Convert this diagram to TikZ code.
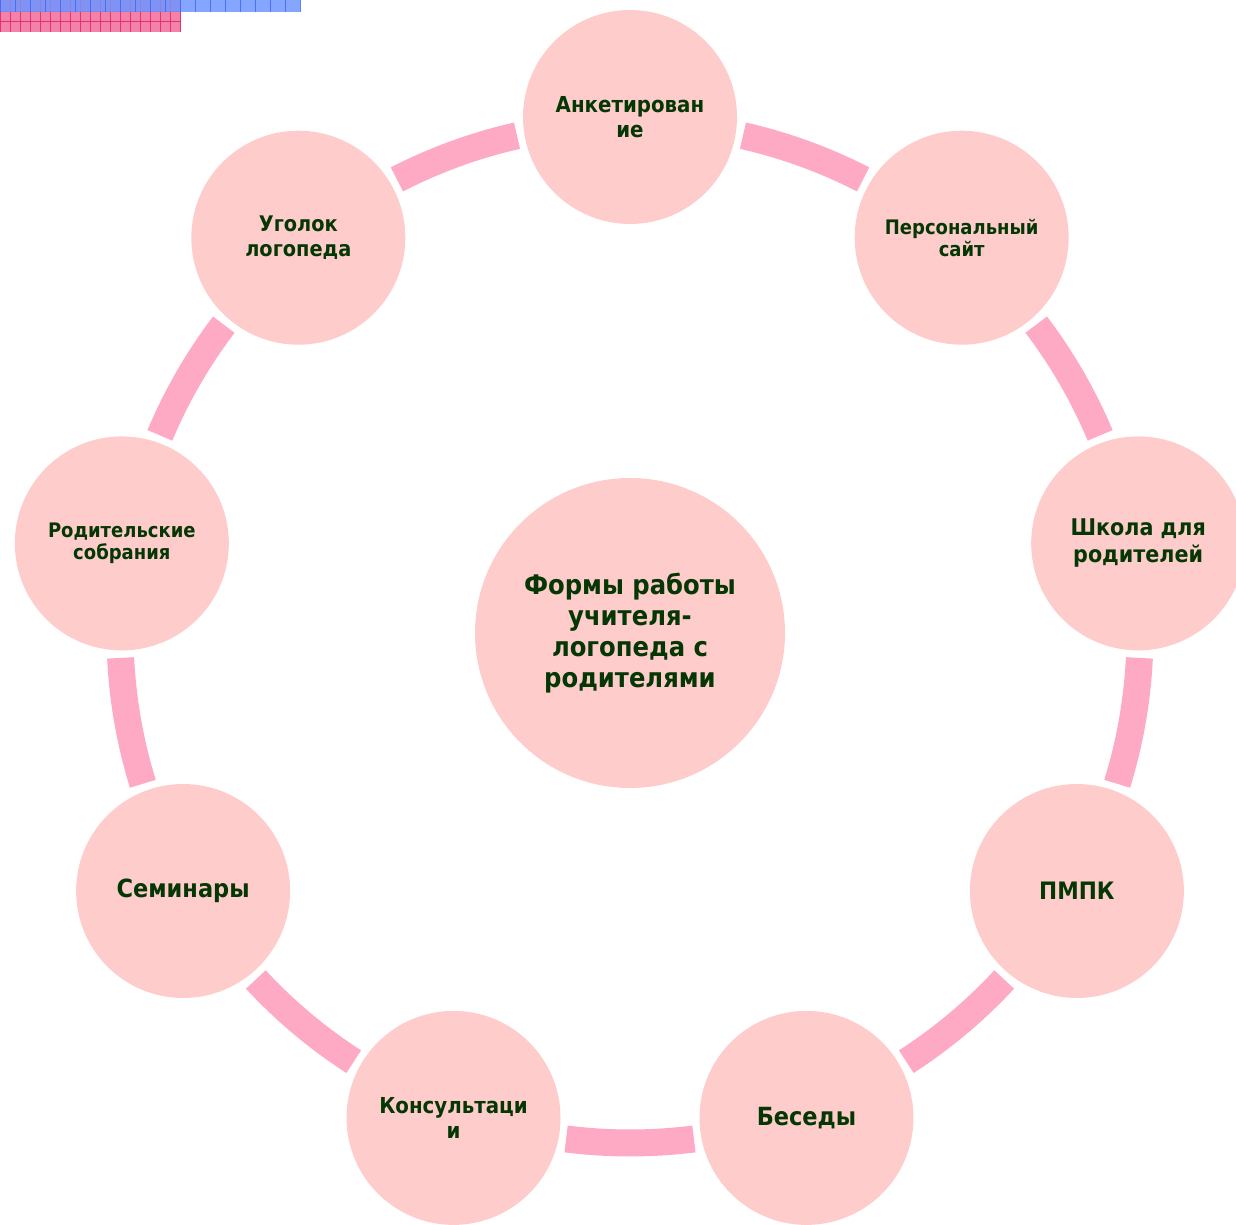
\documentclass[tikz,border=0pt]{standalone}
\usepackage{fontspec}
\setmainfont{DejaVu Sans Condensed}[BoldFont={DejaVu Sans Condensed Bold}]
\usetikzlibrary{calc}
\definecolor{fillpink}{RGB}{255,204,204}
\definecolor{ringpink}{RGB}{255,170,196}
\definecolor{txtgreen}{RGB}{5,55,5}
\definecolor{decopink}{RGB}{242,130,170}
\definecolor{decopinkline}{RGB}{232,50,110}
\definecolor{decoblue}{RGB}{110,150,255}
\definecolor{decoblueline}{RGB}{60,100,250}
\newcommand{\fs}[2]{\fontsize{#1}{#2}\selectfont}
\tikzset{
  sat/.style={circle, fill=fillpink, minimum size=214pt, inner sep=0pt, align=center,
    text=txtgreen},
  hub/.style={circle, fill=fillpink, minimum size=310pt, inner sep=0pt, align=center,
    text=txtgreen, font=\bfseries\fs{27}{31}},
  ring/.style={draw=ringpink, line width=27pt, line cap=butt},
}
\begin{document}
\begin{tikzpicture}[x=1pt,y=1pt]
\useasboundingbox (0,0) rectangle (1236,1225);
% top-left decoration
\fill[decopink] (0,1193) rectangle (181,1225);
\foreach \i in {0,10,...,180} \draw[decopinkline, line width=1pt] (\i,1193) -- (\i,1225);
\foreach \j in {1203,1213} \draw[decopinkline, line width=1pt] (0,\j) -- (181,\j);
\fill[decoblue, opacity=0.85] (0,1213) rectangle (300,1225);
\foreach \i in {0,15,...,300} \draw[decoblueline, line width=1pt, opacity=0.8] (\i,1213) -- (\i,1225);
% hub
\node[hub] (c) at (630,592) {Формы работы\\учителя-\\логопеда с\\родителями};
% ring arcs
\foreach \k in {0,...,8} {
  \pgfmathsetmacro{\amid}{90-40*\k-20}
  \draw[ring] ($(c)+(\amid+7.2:510)$) arc[start angle=\amid+7.2, end angle=\amid-7.2, radius=510];
}
% satellites
\node[sat, font=\bfseries\fs{22}{25}] (n0) at ($(c)+(90:516)$) {Анкетирован\\ие};
\node[sat, font=\bfseries\fs{20}{22}] (n1) at ($(c)+(50:516)$) {Персональный\\сайт};
\node[sat, font=\bfseries\fs{23}{27}] (n2) at ($(c)+(10:516)$) {Школа для\\родителей};
\node[sat, font=\bfseries\fs{24}{28}] (n3) at ($(c)+(-30:516)$) {ПМПК};
\node[sat, font=\bfseries\fs{25}{28}] (n4) at ($(c)+(-70:516)$) {Беседы};
\node[sat, font=\bfseries\fs{22}{25}] (n5) at ($(c)+(-110:516)$) {Консультаци\\и};
\node[sat, font=\bfseries\fs{25}{28}] (n6) at ($(c)+(-150:516)$) {Семинары};
\node[sat, font=\bfseries\fs{20}{22}] (n7) at ($(c)+(170:516)$) {Родительские\\собрания};
\node[sat, font=\bfseries\fs{21.5}{25}] (n8) at ($(c)+(130:516)$) {Уголок\\логопеда};
\end{tikzpicture}
\end{document}
